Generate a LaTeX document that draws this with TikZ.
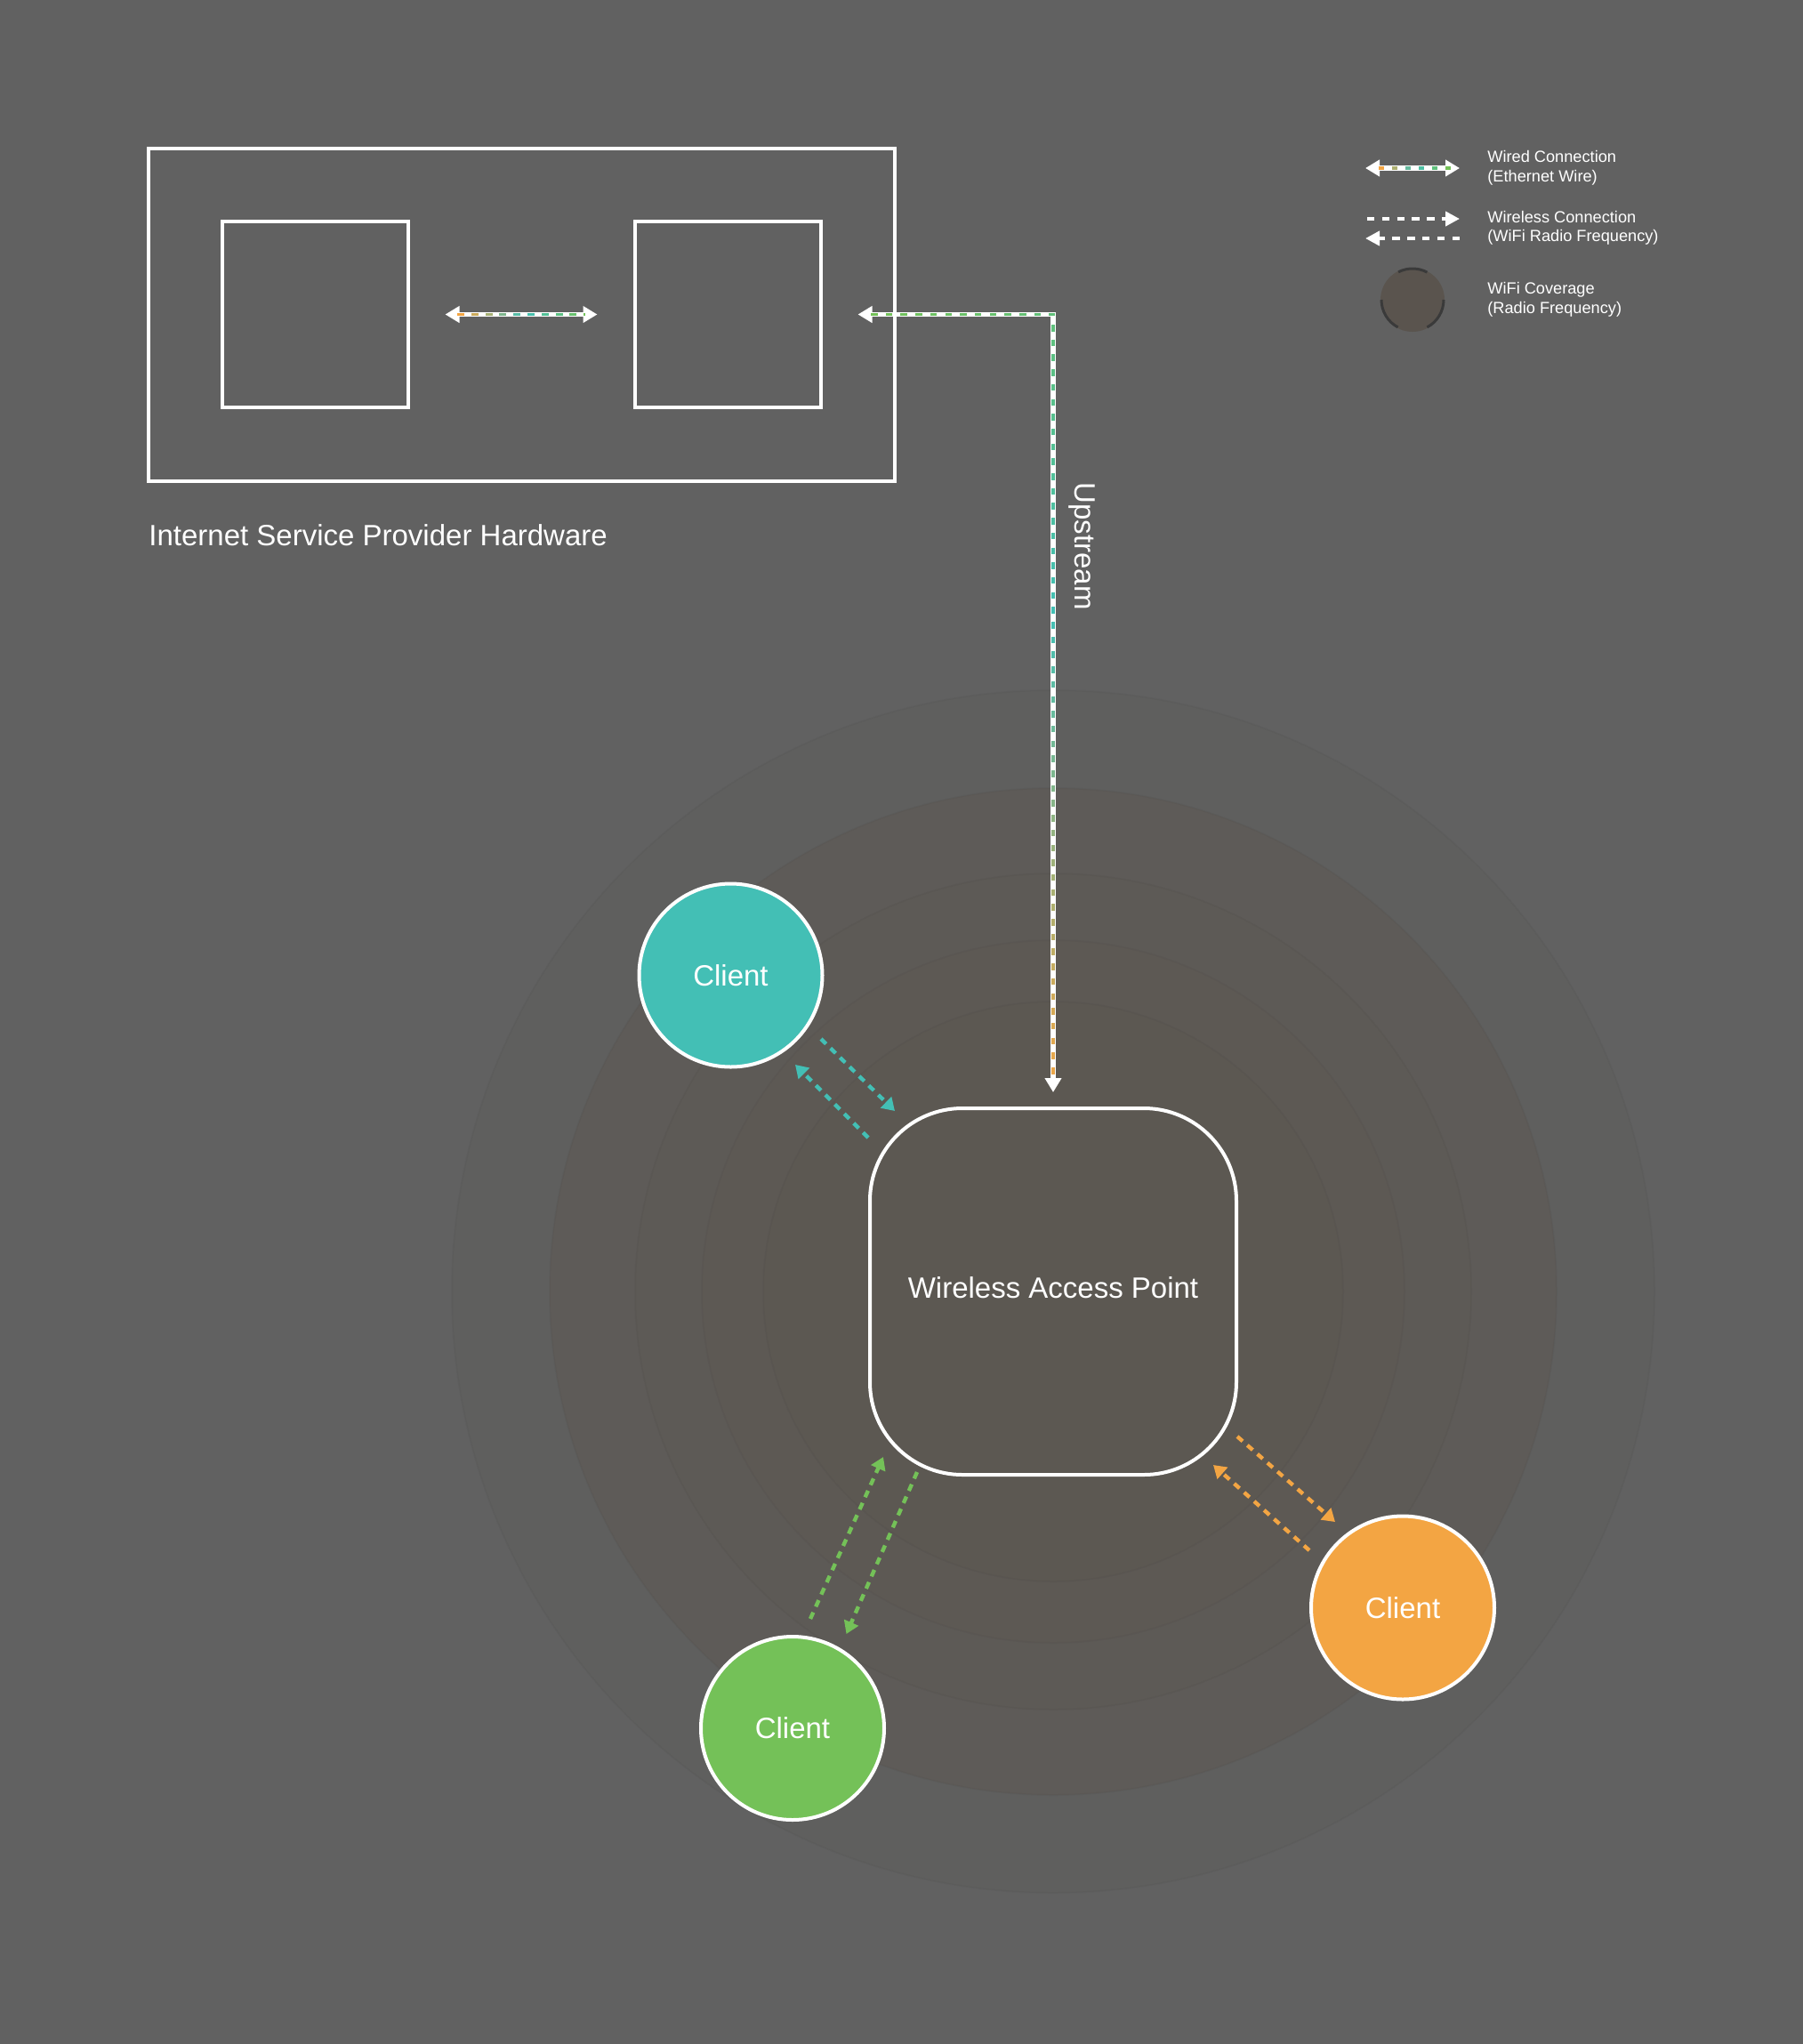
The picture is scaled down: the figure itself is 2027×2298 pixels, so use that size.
\documentclass[tikz,border=0pt]{standalone}
\usepackage{fontspec}
\setmainfont{Liberation Sans}
\usetikzlibrary{arrows.meta}
\definecolor{bg}{HTML}{616161}
\definecolor{ringA}{HTML}{5F5F5E}
\definecolor{ringB}{HTML}{5E5B58}
\definecolor{ringC}{HTML}{5D5A56}
\definecolor{ringD}{HTML}{5D5954}
\definecolor{ringE}{HTML}{5C5852}
\definecolor{legc}{HTML}{5A544E}
\definecolor{arcc}{HTML}{3A3A3A}
\definecolor{cgreen}{HTML}{74C158}
\definecolor{cteal}{HTML}{43BFB5}
\definecolor{corange}{HTML}{F3A543}
\newcommand{\setdashcol}[1]{%
  \pgfmathtruncatemacro\gA{max(0,200*#1-100)}%
  \pgfmathtruncatemacro\gB{min(100,200*#1)}%
  \colorlet{dashcol}{corange!\gA!cteal!\gB!cgreen}}
\begin{document}
\begin{tikzpicture}[x=0.5pt,y=-0.5pt,
  box/.style={draw=white, line width=2pt, inner sep=0pt, outer sep=0pt},
  client/.style={circle, draw=white, line width=2pt, minimum size=103pt, inner sep=0pt, outer sep=0pt, text=white, font=\fontsize{16.5}{20}\selectfont},
  lbl/.style={text=white, inner sep=0pt, font=\fontsize{16.5}{20}\selectfont},
  leg/.style={text=white, inner sep=0pt, anchor=base west, font=\fontsize{9.1}{11}\selectfont},
  wire/.style={draw=white, line width=2.8pt, {Triangle[length=8pt,width=9pt]}-{Triangle[length=8pt,width=9pt]}},
  wdash/.style={draw=dashcol, line width=1.6pt},
  wless/.style={line width=2.2pt, dash pattern=on 4pt off 3.5pt, -{Triangle[length=7pt,width=8.5pt]}},
  lwless/.style={draw=white, line width=2.3pt, dash pattern=on 4.2pt off 4.2pt, -{Triangle[length=8pt,width=8pt]}},
  arcst/.style={draw=arcc, line width=1.5pt},
  ringst/.style={draw=black, draw opacity=0.025, line width=1pt}]
\fill[bg] (0,0) rectangle (2027,2298);
\useasboundingbox (0,0) rectangle (2027,2298);
% coverage rings
\foreach \r/\c in {676/ringA,566/ringB,470/ringC,395/ringD,326/ringE}
  \fill[\c, ringst] (1184,1452) circle[radius=\r];
% ISP hardware
\node[box, minimum width=419.5pt, minimum height=187pt] (isp) at (586.5,354) {};
\node[box, minimum size=104.5pt] (lbox) at (354.5,353.5) {};
\node[box, minimum size=104.5pt] (rbox) at (818.5,353.5) {};
\node[lbl, anchor=base west] (isplabel) at (167,613) {Internet Service Provider Hardware};
% access point
\node[box, fill=ringE, rounded corners=52pt, minimum size=206pt, text depth=4pt, text=white, font=\fontsize{16.5}{20}\selectfont] (ap) at (1184,1452) {Wireless Access Point};
% clients
\node[client, fill=cteal] (c1) at (821.5,1096.5) {Client};
\node[client, fill=corange] (c2) at (1577,1807.5) {Client};
\node[client, fill=cgreen] (c3) at (891,1943) {Client};
% wired between ISP boxes
\draw[wire, shorten <=20.75pt, shorten >=21.25pt] (lbox.east) -- (rbox.west);
\foreach \k in {0,...,9}{
  \pgfmathsetmacro\gx{514+15.8*\k}
  \pgfmathsetmacro\gxe{min(\gx+8,658)}
  \pgfmathsetmacro\gT{1-15.8*\k/144}
  \setdashcol{\gT}
  \draw[wdash] (\gx,353.5) -- (\gxe,353.5);
}
% upstream
\draw[wire, shorten <=20.75pt, shorten >=9pt] (rbox.east) -| (ap.north);
\foreach \k in {0,...,12}{
  \pgfmathsetmacro\gx{979+16.7*\k}
  \pgfmathsetmacro\gxe{min(\gx+7.5,1185.5)}
  \pgfmathsetmacro\gT{16.7*\k/1078}
  \setdashcol{\gT}
  \draw[wdash] (\gx,353.5) -- (\gxe,353.5);
}
\foreach \k in {0,...,50}{
  \pgfmathsetmacro\gy{365+16.7*\k}
  \pgfmathsetmacro\gT{(220+16.7*\k)/1078}
  \setdashcol{\gT}
  \draw[wdash] (1184,\gy) -- ++(0,7.5);
}
\node[lbl, rotate=-90] (uplabel) at (1216,614) {Upstream};
% wireless links
\coordinate (t1s) at (923,1168);  \coordinate (t1e) at (1006,1249);
\coordinate (t2s) at (976,1279);  \coordinate (t2e) at (894,1197);
\coordinate (o1s) at (1391,1615); \coordinate (o1e) at (1501,1711);
\coordinate (o2s) at (1472,1743); \coordinate (o2e) at (1364,1647);
\coordinate (g1s) at (911,1820);  \coordinate (g1e) at (993,1638);
\coordinate (g2s) at (1031,1655); \coordinate (g2e) at (951.5,1837);
\draw[wless, cteal] (t1s) -- (t1e);
\draw[wless, cteal] (t2s) -- (t2e);
\draw[wless, corange] (o1s) -- (o1e);
\draw[wless, corange] (o2s) -- (o2e);
\draw[wless, cgreen] (g1s) -- (g1e);
\draw[wless, cgreen] (g2s) -- (g2e);
% legend
\coordinate (lw1) at (1535,189); \coordinate (lw2) at (1641,189);
\draw[wire] (lw1) -- (lw2);
\foreach \k in {0,...,5}{
  \pgfmathsetmacro\gx{1550+15*\k}
  \pgfmathsetmacro\gT{1-\k/5}
  \setdashcol{\gT}
  \draw[wdash] (\gx,189) -- ++(6,0);
}
\node[leg] (lt1) at (1672,182.3) {Wired Connection};
\node[leg] (lt2) at (1672,204) {(Ethernet Wire)};
\coordinate (lr1) at (1537,246); \coordinate (lr2) at (1641,246);
\coordinate (ll1) at (1641,268); \coordinate (ll2) at (1535,268);
\draw[lwless] (lr1) -- (lr2);
\draw[lwless] (ll1) -- (ll2);
\node[leg] (lt3) at (1672,250.3) {Wireless Connection};
\node[leg] (lt4) at (1672,271.7) {(WiFi Radio Frequency)};
\node[circle, fill=legc, minimum size=36pt, inner sep=0pt] (cov) at (1588,337) {};
\draw[arcst] (cov.center) ++(-62:35) arc[start angle=-62, end angle=-117, radius=35];
\draw[arcst] (cov.center) ++(180:35) arc[start angle=180, end angle=118, radius=35];
\draw[arcst] (cov.center) ++(0:35) arc[start angle=0, end angle=62, radius=35];
\node[leg] (lt5) at (1672,330.7) {WiFi Coverage};
\node[leg] (lt6) at (1672,352.7) {(Radio Frequency)};
\end{tikzpicture}
\end{document}
